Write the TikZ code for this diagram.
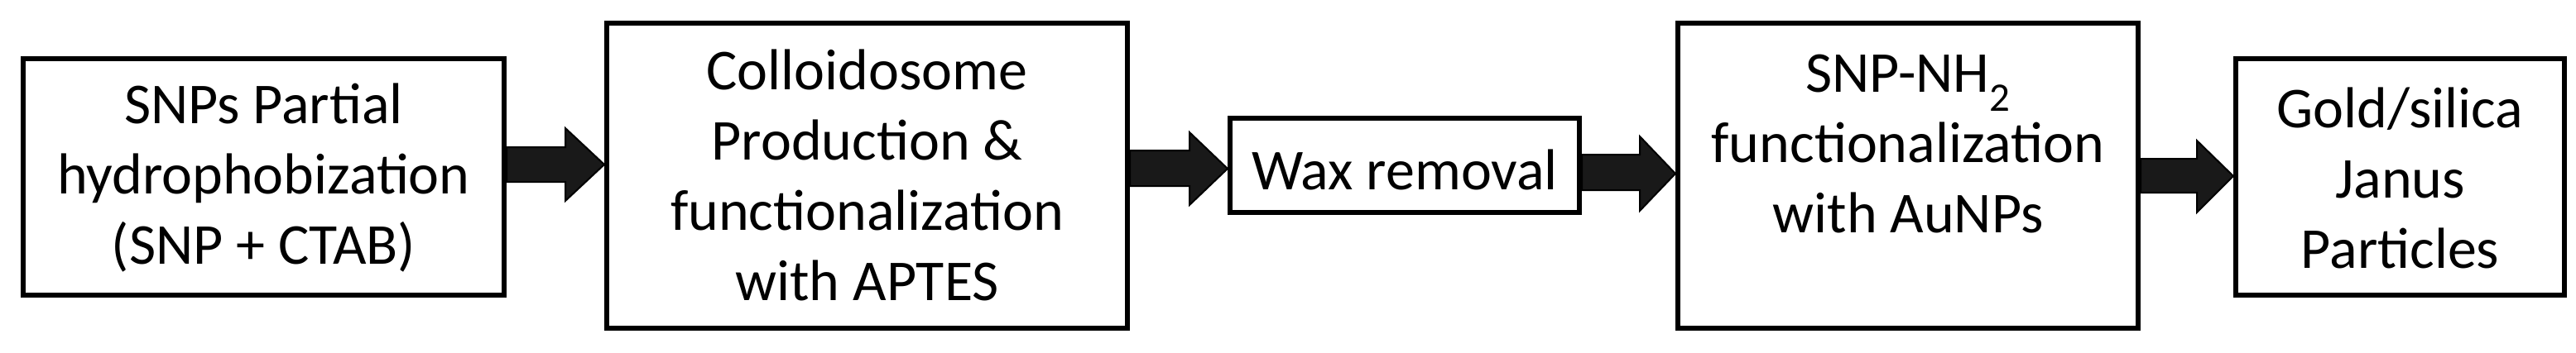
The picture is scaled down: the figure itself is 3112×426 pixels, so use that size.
\documentclass[tikz,border=0pt]{standalone}
\usepackage{fontspec}
\setmainfont{Carlito}
\begin{document}
\begin{tikzpicture}[x=1pt,y=-1pt,
  box/.style={draw=black,line width=6pt,fill=white,inner sep=0pt},
  lbl/.style={align=center,font=\fontsize{70}{85}\selectfont},
  arr/.style={draw=black,line width=2pt,fill=black!90,line join=miter}]
\useasboundingbox (0,0) rectangle (3112,426);
% boxes
\node[box,minimum width=581pt,minimum height=286pt] (b1) at (318.5,214) {};
\node[box,minimum width=629pt,minimum height=369pt] (b2) at (1047.5,212.5) {};
\node[box,minimum width=422pt,minimum height=114pt] (b3) at (1697,200) {};
\node[box,minimum width=556pt,minimum height=369pt] (b4) at (2305,212.5) {};
\node[box,minimum width=397pt,minimum height=286pt] (b5) at (2899.5,214) {};
% labels
\node[lbl] (t1) at (318.5,215) {SNPs Partial\\hydrophobization\\(SNP + CTAB)};
\node[lbl] (t2) at (1047.5,212) {Colloidosome\\Production \&\\functionalization\\with APTES};
\node[lbl] (t3) at (1697,205) {Wax removal};
\node[lbl] (t4) at (2305,174) {SNP-NH\textsubscript{2}\\functionalization\\with AuNPs};
\node[lbl] (t5) at (2899.5,215) {Gold/silica\\Janus\\Particles};
% arrows
\draw[arr] (b1.east |- 0,178) -- (683,178) -- (683,155) -- (b2.west |- 0,199) -- (683,243) -- (683,220) -- (b1.east |- 0,220) -- cycle;
\draw[arr] (b2.east |- 0,182) -- (1437,182) -- (1437,160) -- (b3.west |- 0,204) -- (1437,248) -- (1437,225) -- (b2.east |- 0,225) -- cycle;
\draw[arr] (b3.east |- 0,187) -- (1981,187) -- (1981,165) -- (b4.west |- 0,210) -- (1981,255) -- (1981,230) -- (b3.east |- 0,230) -- cycle;
\draw[arr] (b4.east |- 0,192) -- (2654,192) -- (2654,170) -- (b5.west |- 0,213) -- (2654,257) -- (2654,233) -- (b4.east |- 0,233) -- cycle;
\end{tikzpicture}
\end{document}
